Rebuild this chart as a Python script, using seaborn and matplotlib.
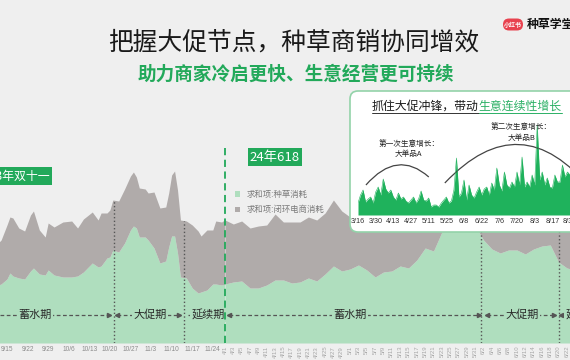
import matplotlib
matplotlib.use('Agg')
import matplotlib.pyplot as plt
import seaborn as sns
import pandas as pd
import numpy as np
from matplotlib.patches import FancyBboxPatch, Rectangle, PathPatch
from matplotlib.path import Path

# ---- data: 2023 双十一 segment ----
dates_2023 = ['9/12', '9/13', '9/15', '9/16', '9/17', '9/19', '9/21', '9/23', '9/24', '9/26',
              '9/28', '9/29', '10/1', '10/4', '10/7', '10/9', '10/11', '10/14', '10/16', '10/17',
              '10/19', '10/20', '10/21', '10/23', '10/25', '10/27', '10/28', '10/29', '10/30', '11/1',
              '11/2', '11/4', '11/6', '11/8', '11/9', '11/10', '11/11', '11/12', '11/13', '11/15',
              '11/17', '11/19', '11/20', '11/22', '11/24', '11/25', '11/27', '11/28']
seed_2023 = [58, 59, 64, 70, 67, 65, 64, 72, 75, 69, 68, 73, 68, 66, 66, 67, 71, 80, 76, 77,
             85, 86, 93, 91, 100, 113, 117, 115, 106, 106, 103, 95, 80, 82, 96, 107, 107, 90, 66, 65,
             55, 50, 51, 53, 59, 59, 58, 59]
shop_2023 = [42, 44, 54, 56, 58, 50, 48, 56, 57, 44, 38, 47, 48, 55, 56, 48, 53, 51, 47, 53,
             45, 47, 50, 51, 54, 54, 54, 51, 49, 48, 47, 56, 55, 54, 54, 61, 65, 63, 57, 57,
             63, 62, 56, 60, 54, 63, 63, 64]
ticks_2023 = ['9/15', '9/22', '9/29', '10/6', '10/13', '10/20', '10/27', '11/3', '11/10', '11/17', '11/24']

# ---- data: 2024 618 segment (every 2 days from 4/1) ----
seed_2024 = [59, 61, 62, 55, 55, 58, 63, 63, 60, 61, 65, 62, 69, 77, 72, 74, 78, 73, 66, 71,
             72, 77, 75, 83, 95, 92, 111, 115, 118, 121, 117, 103, 94, 90, 93, 93, 89, 94, 97, 98,
             81, 75, 73]
shop_2024 = [64, 58, 60, 60, 62, 60, 66, 58, 61, 60, 61, 61, 61, 66, 60, 52, 53, 55, 56, 55,
             57, 56, 56, 55, 55, 56, 51, 51, 52, 51, 51, 47, 46, 45, 45, 44, 44, 44, 43, 44,
             44, 43, 42]

# ---- data: inset, 种草 spend from 3/16 (every 2 days) ----
inset_vals = [12, 20, 25, 13, 16, 18, 12, 23, 28, 20, 36, 26, 22, 25, 18, 15, 22, 16, 18, 14,
              12, 15, 18, 12, 16, 24, 15, 14, 17, 8, 10, 10, 8, 12, 15, 18, 12, 14, 25, 57,
              18, 22, 35, 15, 30, 20, 17, 23, 28, 20, 26, 28, 20, 32, 25, 47, 30, 24, 43, 30,
              27, 33, 28, 43, 30, 58, 28, 33, 28, 40, 30, 90, 35, 43, 30, 37, 28, 27, 40, 33,
              33, 50, 38, 43, 40]
inset_ticks = ['3/16', '3/30', '4/13', '4/27', '5/11', '5/25', '6/8', '6/22', '7/6', '7/20', '8/3', '8/17', '8/31']

labels = ['求和项:种草消耗', '求和项:闭环电商消耗']

BG = '#efefef'
GREEN_AREA = '#afdebe'
GRAY_AREA = '#b0abaa'
GREEN = '#22a95a'
VIVID = '#1fb25c'
DARK = '#555555'
W, H = 570, 360

sns.set_theme(style='white', rc={'axes.facecolor': 'none', 'figure.facecolor': BG})
plt.rcParams['font.family'] = ['Noto Sans CJK SC', 'DejaVu Sans']


def day_offset(ds, year, origin):
    t = pd.to_datetime([f'{year}/{d}' for d in ds], format='%Y/%m/%d')
    return np.asarray((t - pd.Timestamp(origin)).days, dtype=float)


x23 = day_offset(dates_2023, 2023, '2023-09-15')
dates_2024 = pd.date_range('2024-04-01', periods=len(seed_2024), freq='2D')
x24 = np.asarray((dates_2024 - pd.Timestamp('2024-04-01')).days, dtype=float)

fig = plt.figure(figsize=(W / 100, H / 100), dpi=100)
base = 1 - 343 / H
ax1 = fig.add_axes([0, base, 225 / W, 1 - base])
ax2 = fig.add_axes([225 / W, base, 345 / W, 1 - base])

for ax, x, s, g in [(ax1, x23, seed_2023, shop_2023), (ax2, x24, seed_2024, shop_2024)]:
    ax.stackplot(x, s, g, colors=[GREEN_AREA, GRAY_AREA], labels=labels, lw=0)
    ax.set_ylim(0, 343)
    ax.set_yticks([])
    sns.despine(ax=ax, left=True, bottom=True)

ax1.set_xlim(-2.38, 74.15)
ax2.set_xlim(0, 82.73)

# x ticks
ax1.set_xticks(day_offset(ticks_2023, 2023, '2023-09-15'), ticks_2023)
ax1.tick_params(axis='x', length=0, pad=2.5, labelsize=4.7, labelcolor='#8c8c8c')
for t in ax1.get_xticklabels():
    t.set_family('Liberation Sans')
tick24 = pd.date_range('2024-04-01', '2024-06-22', freq='2D')
ax2.set_xticks((tick24 - pd.Timestamp('2024-04-01')).days, [f'{d.month}/{d.day}' for d in tick24],
               rotation=90)
ax2.tick_params(axis='x', length=0, pad=2, labelsize=4.3, labelcolor='#a8a8a8')
for t in ax2.get_xticklabels():
    t.set_family('Liberation Sans')

# period boundaries
tot23 = np.add(seed_2023, shop_2023)
tot24 = np.add(seed_2024, shop_2024)
for ax, xs, tot, pos in [(ax1, x23, tot23, [36.4, 60.2]), (ax2, x24, tot24, [61.4, 80.1])]:
    for p in pos:
        ax.plot([p, p], [0, np.interp(p, xs, tot)], ls=':', lw=1, color=DARK, zorder=3)

ax2.plot([0, 0], [0, 196], ls=(0, (4, 2.5)), lw=1.3, color=GREEN, clip_on=False, zorder=5)

PY = 28


def period(ax, x0, x1, xt, text, left=True, right=True):
    ax.plot([x0, x1], [PY, PY], ls=(0, (3, 2)), lw=0.9, color=DARK, zorder=3)
    if left:
        ax.plot(x0, PY, marker='<', ms=3, color=DARK, zorder=3)
    if right:
        ax.plot(x1, PY, marker='>', ms=3, color=DARK, zorder=3)
    ax.text(xt, PY, text, ha='center', va='center', fontsize=8, color='#2a2a2a', zorder=4,
            bbox=dict(fc=GREEN_AREA, ec='none', pad=1.2))


period(ax1, -2.4, 34.7, 9.5, '蓄水期', left=False)
period(ax1, 37.4, 58.5, 48.6, '大促期')
period(ax1, 61.6, 73.8, 68.5, '延续期', left=False, right=False)
period(ax2, 1.0, 60.9, 30, '蓄水期')
period(ax2, 62.8, 78.9, 71.2, '大促期')
period(ax2, 80.6, 95, 85.7, '延续期', right=False)

ax2.legend(loc='upper left', bbox_to_anchor=(235 / W, 1 - 190 / H), bbox_transform=fig.transFigure,
           frameon=False, fontsize=6, labelcolor='#7a7a7a', handlelength=0.6, handleheight=0.6,
           handletextpad=0.8, labelspacing=0.75, borderpad=0, borderaxespad=0)

# overlay in pixel coordinates
ov = fig.add_axes([0, 0, 1, 1], zorder=5)
ov.set_xlim(0, W)
ov.set_ylim(H, 0)
ov.axis('off')

ov.text(294, 43, '把握大促节点，种草商销协同增效', fontsize=17.8, ha='center', va='center', color='#1a1a1a')
ov.text(296, 74.5, '助力商家冷启更快、生意经营更可持续', fontsize=13.4, ha='center', va='center',
        color=GREEN, weight='bold')

ov.add_patch(FancyBboxPatch((503, 18.5), 20, 12, boxstyle='round,pad=0,rounding_size=6',
                            fc='#e8424f', ec='none'))
ov.text(513, 24.7, '小红书', fontsize=4.3, color='white', weight='bold', ha='center', va='center')
ov.text(527, 24.5, '种草学堂', fontsize=8.6, color='#111', weight='bold', ha='left', va='center')

ov.add_patch(Rectangle((-5, 167), 57, 18, fc=GREEN, ec='none'))
ov.text(50, 176, '23年双十一', fontsize=8.6, color='white', ha='right', va='center')
ov.add_patch(Rectangle((248, 148), 54, 18, fc=GREEN, ec='none'))
ov.text(275, 157, '24年618', fontsize=9.5, color='white', ha='center', va='center')

# inset card
ov.add_patch(FancyBboxPatch((350, 91), 260, 141, boxstyle='round,pad=0,rounding_size=8',
                            fc='white', ec='#93d3a9', lw=1.2))
t1 = ov.text(372, 106, '抓住大促冲锋，带动', fontsize=8.6, color='#1a1a1a', ha='left', va='center')
fig.canvas.draw()
bb = t1.get_window_extent().transformed(ov.transData.inverted())
x_mid = bb.x1
t2 = ov.text(x_mid, 106, '生意连续性增长', fontsize=8.6, color='#2bb065', ha='left', va='center')
fig.canvas.draw()
x_end = t2.get_window_extent().transformed(ov.transData.inverted()).x1
ov.plot([372, x_mid], [113, 113], color='#333', lw=0.7)
ov.plot([x_mid, x_end], [113, 113], color='#2bb065', lw=0.7)

inn = fig.add_axes([358 / W, 1 - 215 / H, 212 / W, 95 / H], zorder=6)
xin = np.arange(len(inset_vals)) * 2
inn.fill_between(xin, inset_vals, color=VIVID, lw=0)
sns.lineplot(x=xin, y=inset_vals, ax=inn, color=VIVID, lw=0.4)
inn.set_xlim(0, 167.6)
inn.set_ylim(0, 95)
inn.set_yticks([])
inn.set_ylabel('')
inn.set_xticks(np.arange(len(inset_ticks)) * 14, inset_ticks)
inn.tick_params(axis='x', length=0, pad=2.5, labelsize=5.2, labelcolor='#333')
for t in inn.get_xticklabels():
    t.set_family('Liberation Sans')
sns.despine(ax=inn, left=True, bottom=True)

arc1 = Path([(6.3, 30), (31.2, 66), (56.1, 38)], [Path.MOVETO, Path.CURVE3, Path.CURVE3])
arc2 = Path([(68.8, 32), (129, 112.5), (185, 25)], [Path.MOVETO, Path.CURVE3, Path.CURVE3])
for arc in (arc1, arc2):
    inn.add_patch(PathPatch(arc, fc='none', ec='#444', lw=0.9))
inn.text(40.3, 66, '第一次生意增长：\n大单品A', ha='center', va='center', fontsize=5.5,
         linespacing=1.35, color='#222')
inn.text(129.6, 82.5, '第二次生意增长：\n大单品B', ha='center', va='center', fontsize=5.5,
         linespacing=1.35, color='#222')

fig.savefig('out.png', dpi=100, facecolor=BG)
